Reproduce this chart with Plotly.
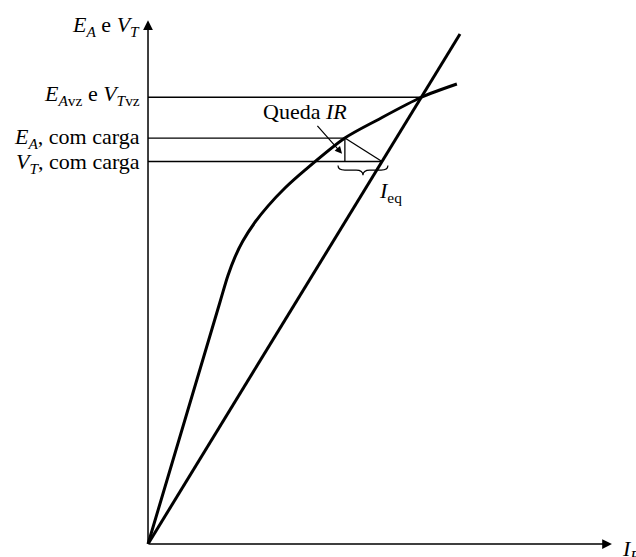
import plotly.graph_objects as go

# Magnetization curve: generated voltage E_A versus field current I_F (arbitrary units)
i_f = [0, 2.31, 2.56, 2.79, 3.04, 3.43, 3.85, 4.39, 5.03, 6.31, 7.34, 8.76, 9.90]
e_a = [0, 4.75, 5.26, 5.63, 5.94, 6.31, 6.63, 6.98, 7.33, 7.96, 8.31, 8.76, 9.02]

# Field-resistance line V_T = R_F * I_F
r_line_i = [0, 10]
r_line_v = [0, 10]

# Operating levels
e_nl = 8.76      # E_A = V_T at no load
e_load = 7.96    # E_A with load
v_load = 7.50    # V_T with load
i_ea = 6.31      # field current where the curve reaches E_A with load
i_vt = 7.50      # field current where the resistance line reaches V_T with load

# Axis extents
x_end = 14.87
y_end = 10.27
x_range = [-4.744, 15.641]
y_range = [-0.255, 10.667]

FONT = "Liberation Serif"
BLACK = "#000000"

fig = go.Figure()

thin = dict(color=BLACK, width=1.3)
# Horizontal reference levels
fig.add_trace(go.Scatter(x=[0, e_nl], y=[e_nl, e_nl], mode="lines", line=thin))
fig.add_trace(go.Scatter(x=[0, i_ea], y=[e_load, e_load], mode="lines", line=thin))
fig.add_trace(go.Scatter(x=[0, i_vt], y=[v_load, v_load], mode="lines", line=thin))
# IR drop triangle
fig.add_trace(go.Scatter(x=[i_ea, i_ea], y=[e_load, v_load], mode="lines", line=thin))
fig.add_trace(go.Scatter(x=[i_ea, i_vt], y=[e_load, v_load], mode="lines", line=thin))

# Resistance line and magnetization curve
fig.add_trace(go.Scatter(x=r_line_i, y=r_line_v, mode="lines",
                         line=dict(color=BLACK, width=3)))
fig.add_trace(go.Scatter(x=i_f, y=e_a, mode="lines",
                         line=dict(color=BLACK, width=3, shape="spline", smoothing=0.8)))

# Curly brace under the equivalent current span
bx0, bx1 = i_ea - 0.22, i_vt + 0.19
bxm = (bx0 + bx1) / 2
by_top, by_mid, by_tip = v_load - 0.08, v_load - 0.17, v_load - 0.27
q = 0.22
brace = (f"M {bx0},{by_top} Q {bx0},{by_mid} {bx0 + q},{by_mid} "
         f"L {bxm - q},{by_mid} Q {bxm},{by_mid} {bxm},{by_tip} "
         f"Q {bxm},{by_mid} {bxm + q},{by_mid} "
         f"L {bx1 - q},{by_mid} Q {bx1},{by_mid} {bx1},{by_top}")
fig.add_shape(type="path", path=brace, xref="x", yref="y",
              line=dict(color=BLACK, width=1.2))

# Axes with arrowheads
for (xh, yh) in [(0, y_end), (x_end, 0)]:
    fig.add_annotation(x=xh, y=yh, ax=0, ay=0, axref="x", ayref="y",
                       xref="x", yref="y", text="", showarrow=True,
                       arrowhead=2, arrowsize=1.3, arrowwidth=1.5,
                       arrowcolor=BLACK, standoff=0)

lab = dict(family=FONT, size=22, color=BLACK)

# Axis titles
fig.add_annotation(x=-0.19, y=y_end, xref="x", yref="y", xanchor="right",
                   yanchor="middle", yshift=-6, showarrow=False, font=lab,
                   text="<i>E</i><sub><i>A</i></sub> e <i>V</i><sub><i>T</i></sub>")
fig.add_annotation(x=x_end, y=0, xref="x", yref="y", xanchor="left",
                   yanchor="middle", xshift=8, yshift=-6, showarrow=False, font=lab,
                   text="<i>I</i><sub><i>F</i></sub>")

# Level labels on the vertical axis
fig.add_annotation(x=-0.19, y=e_nl, xref="x", yref="y", xanchor="right",
                   yanchor="middle", yshift=2, showarrow=False, font=lab,
                   text="<i>E</i><sub><i>A</i>vz</sub> e <i>V</i><sub><i>T</i>vz</sub>")
fig.add_annotation(x=-0.19, y=e_load, xref="x", yref="y", xanchor="right",
                   yanchor="middle", yshift=0, showarrow=False, font=lab,
                   text="<i>E</i><sub><i>A</i></sub>, com carga")
fig.add_annotation(x=-0.19, y=v_load, xref="x", yref="y", xanchor="right",
                   yanchor="middle", yshift=-1, showarrow=False, font=lab,
                   text="<i>V</i><sub><i>T</i></sub>, com carga")

# IR drop callout
fig.add_annotation(x=i_ea - 0.09, y=(e_load + v_load) / 2 - 0.08, xref="x", yref="y",
                   ax=-37, ay=-42, text="Queda <i>IR</i>", showarrow=True,
                   arrowhead=2, arrowsize=1.2, arrowwidth=1.2, arrowcolor=BLACK,
                   font=lab)

# Equivalent current label
fig.add_annotation(x=i_vt, y=v_load, xref="x", yref="y", xanchor="left",
                   yanchor="middle", xshift=-5, yshift=-30, showarrow=False, font=lab,
                   text="<i>I</i><sub>eq</sub>")

fig.update_layout(
    width=636, height=557,
    margin=dict(l=0, r=0, t=0, b=0),
    paper_bgcolor="white", plot_bgcolor="white",
    showlegend=False,
    xaxis=dict(range=x_range, visible=False, fixedrange=True),
    yaxis=dict(range=y_range, visible=False, fixedrange=True),
)

fig.write_html("out.html", config={"displayModeBar": False})
